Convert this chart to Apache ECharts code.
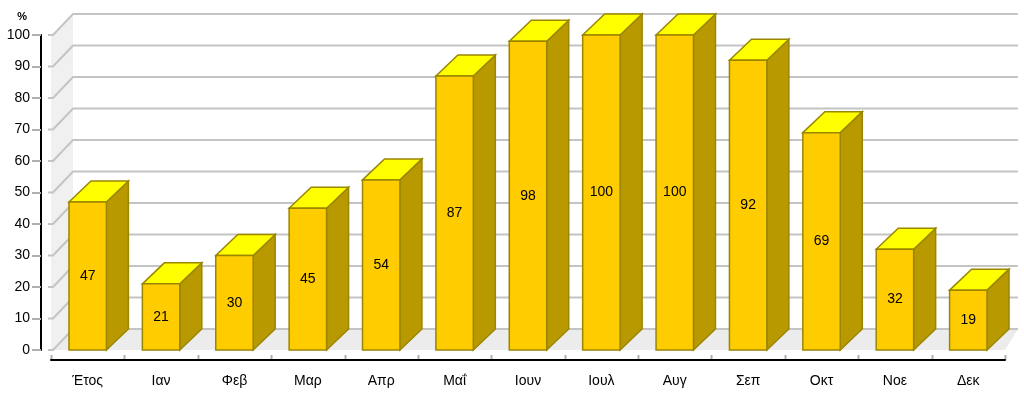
<!DOCTYPE html>
<html>
<head>
<meta charset="utf-8">
<script src="https://cdn.jsdelivr.net/npm/echarts@6/dist/echarts.min.js"></script>
<style>
html,body{margin:0;padding:0;background:#fff;}
#chart{width:1024px;height:399px;}
</style>
</head>
<body>
<div id="chart"></div>
<script>
const categories = ['Έτος','Ιαν','Φεβ','Μαρ','Απρ','Μαΐ','Ιουν','Ιουλ','Αυγ','Σεπ','Οκτ','Νοε','Δεκ'];
const values = [47,21,30,45,54,87,98,100,100,92,69,32,19];
const yTicks = [0,10,20,30,40,50,60,70,80,90,100];

const DX = 22, DY = 21;
const FRONT = '#FFCC00', SIDE = '#B89A00', TOP = '#FFFF00', EDGE = '#9A8600';
const FONT = 'Liberation Sans, Arial, sans-serif';

const chart = echarts.init(document.getElementById('chart'));

function decorItem(params, api) {
  const cs = params.coordSys;
  const v = api.value(0);
  const y = api.coord([0, v])[1];
  const x0 = cs.x, x1 = cs.x + cs.width;
  const children = [];
  if (params.dataIndex === 0) {
    const yb = cs.y + cs.height, yt = cs.y;
    children.push({type:'polygon', shape:{points:[[x0,yb],[x0,yt],[x0+DX,yt-DY],[x0+DX,yb-DY]]}, style:{fill:'#f0f0f0'}});
    children.push({type:'polygon', shape:{points:[[x0,yb],[x1,yb],[x1+13,yb-DY],[x0+DX,yb-DY]]}, style:{fill:'#ececec'}});
    // tick extensions above the x axis
    const bw = api.size([1,0])[0];
    for (let i = 0; i <= categories.length; i++) {
      const tx = Math.round(x0 + i*bw) + 0.5;
      children.push({type:'line', shape:{x1:tx,y1:yb+5,x2:tx,y2:yb+10}, style:{stroke:'#b0b0b0', lineWidth:2}});
    }
  }
  children.push({type:'polyline', shape:{points:[[x0-3,y],[x0+2,y],[x0+DX,y-DY],[x1+13,y-DY]]}, style:{stroke:'#c4c4c4', lineWidth:2, fill:null}});
  return {type:'group', children};
}

function barItem(params, api) {
  const idx = api.value(0), v = api.value(1);
  const top = api.coord([idx, v]);
  const base = api.coord([idx, 0]);
  const bw = api.size([1,0])[0];
  const w = bw * 0.51;
  const xl = top[0] - w/2, xr = top[0] + w/2;
  const yt = top[1], yb = base[1];
  return {type:'group', children:[
    {type:'polygon', shape:{points:[[xr,yb],[xr+DX,yb-DY],[xr+DX,yt-DY],[xr,yt]]}, style:{fill:SIDE, stroke:EDGE, lineWidth:1.5}},
    {type:'polygon', shape:{points:[[xl,yt],[xl+DX,yt-DY],[xr+DX,yt-DY],[xr,yt]]}, style:{fill:TOP, stroke:EDGE, lineWidth:1.5}},
    {type:'rect', shape:{x:xl, y:yt, width:w, height:yb-yt}, style:{fill:FRONT, stroke:EDGE, lineWidth:1.5}},
    {type:'text', style:{text:String(v), x:top[0], y:(yt+yb)/2, align:'center', verticalAlign:'middle', fill:'#000', font:'14px ' + FONT}}
  ]};
}

chart.setOption({
  animation:false,
  grid:{left:51, right:19, top:35, bottom:49},
  xAxis:{
    type:'category', data:categories, offset:10, z:10,
    axisLine:{onZero:false, lineStyle:{color:'#000', width:2}},
    axisTick:{length:9, lineStyle:{color:'#b0b0b0', width:2}},
    axisLabel:{color:'#000', fontSize:14, fontFamily:FONT, margin:14},
    splitLine:{show:false}
  },
  yAxis:{
    type:'value', min:0, max:100, interval:10, offset:10, z:10,
    name:'%', nameLocation:'end', nameGap:13,
    nameTextStyle:{color:'#000', fontSize:11, fontWeight:'bold', fontFamily:FONT, align:'right', padding:[0,14,0,0]},
    axisLine:{show:true, onZero:false, lineStyle:{color:'#000', width:2}},
    axisTick:{show:true, length:9, lineStyle:{color:'#b0b0b0', width:2}},
    axisLabel:{color:'#000', fontSize:14, fontFamily:FONT, margin:11},
    splitLine:{show:false}
  },
  series:[
    {type:'custom', renderItem:decorItem, data:yTicks.map(v=>[v]), encode:{y:0}, z:1, silent:true},
    {type:'custom', renderItem:barItem, data:values.map((v,i)=>[i,v]), encode:{x:0,y:1}, z:2}
  ]
});
</script>
</body>
</html>
